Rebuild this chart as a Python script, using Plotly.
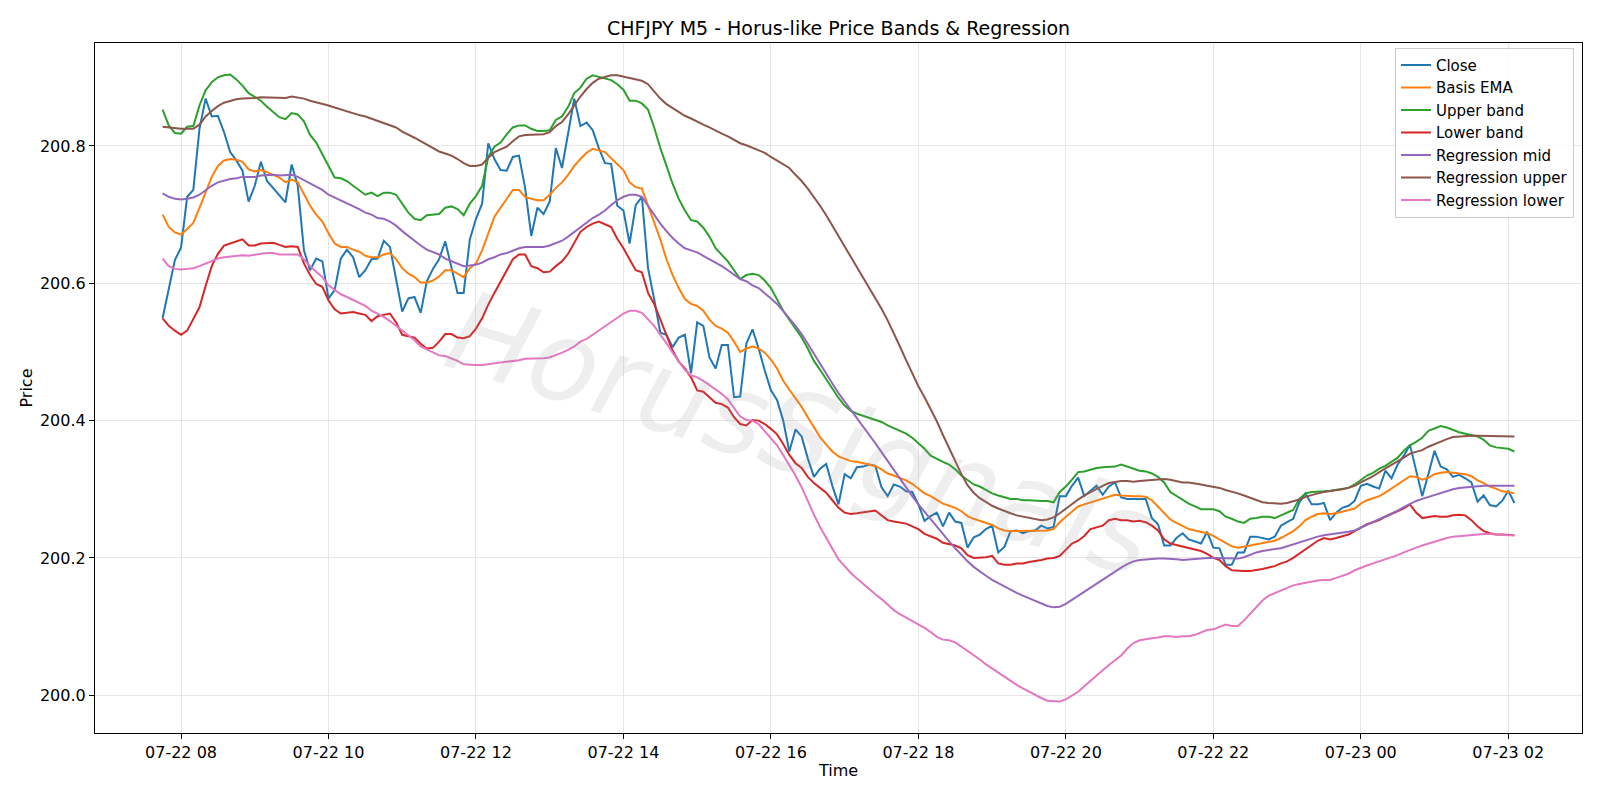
import pandas as pd
import plotly.graph_objects as go

# ---------------- data (5-minute bars, 07-22 07:45 -> 07-23 02:05) ----------------
start_time = "2025-07-22 07:45"
n_bars = 221
times = pd.date_range(start_time, periods=n_bars, freq="5min")

close = [
    200.549, 200.592, 200.634, 200.652, 200.726, 200.736, 200.825, 200.869, 200.843, 200.844,
    200.820, 200.791, 200.779, 200.764, 200.719, 200.742, 200.777, 200.749, 200.739, 200.729,
    200.718, 200.773, 200.742, 200.648, 200.619, 200.636, 200.632, 200.578, 200.590, 200.636,
    200.649, 200.638, 200.609, 200.619, 200.635, 200.636, 200.662, 200.653, 200.606, 200.559,
    200.578, 200.580, 200.557, 200.603, 200.621, 200.635, 200.661, 200.622, 200.586, 200.586,
    200.664, 200.694, 200.716, 200.804, 200.781, 200.765, 200.764, 200.784, 200.786, 200.739,
    200.669, 200.710, 200.701, 200.719, 200.797, 200.768, 200.820, 200.869, 200.829, 200.834,
    200.823, 200.797, 200.775, 200.774, 200.713, 200.706, 200.658, 200.714, 200.726, 200.622,
    200.577, 200.528, 200.525, 200.507, 200.521, 200.525, 200.469, 200.543, 200.538, 200.492,
    200.476, 200.510, 200.510, 200.434, 200.435, 200.512, 200.533, 200.505, 200.473, 200.444,
    200.430, 200.400, 200.355, 200.387, 200.377, 200.345, 200.318, 200.330, 200.337, 200.305,
    200.278, 200.322, 200.316, 200.332, 200.333, 200.336, 200.334, 200.303, 200.290, 200.307,
    200.304, 200.297, 200.296, 200.278, 200.254, 200.261, 200.266, 200.246, 200.266, 200.253,
    200.251, 200.215, 200.230, 200.234, 200.242, 200.247, 200.208, 200.216, 200.239, 200.240,
    200.236, 200.239, 200.240, 200.247, 200.243, 200.245, 200.290, 200.290, 200.305, 200.317,
    200.290, 200.297, 200.305, 200.292, 200.304, 200.310, 200.288, 200.286, 200.286, 200.286,
    200.286, 200.258, 200.249, 200.218, 200.218, 200.229, 200.236, 200.227, 200.224, 200.221,
    200.238, 200.215, 200.214, 200.190, 200.190, 200.208, 200.208, 200.231, 200.231, 200.229,
    200.227, 200.231, 200.247, 200.252, 200.257, 200.281, 200.294, 200.278, 200.278, 200.280,
    200.255, 200.266, 200.273, 200.276, 200.283, 200.305, 200.308, 200.304, 200.301, 200.327,
    200.316, 200.336, 200.349, 200.365, 200.325, 200.290, 200.322, 200.356, 200.333, 200.329,
    200.318, 200.321, 200.316, 200.310, 200.282, 200.291, 200.277, 200.275, 200.283, 200.298,
    200.280,
]

basis_ema = [
    200.700, 200.682, 200.674, 200.671, 200.679, 200.688, 200.710, 200.732, 200.755, 200.771,
    200.779, 200.781, 200.780, 200.777, 200.766, 200.763, 200.765, 200.762, 200.758, 200.754,
    200.747, 200.751, 200.747, 200.729, 200.713, 200.700, 200.690, 200.673, 200.658, 200.653,
    200.653, 200.649, 200.646, 200.640, 200.638, 200.638, 200.642, 200.644, 200.635, 200.622,
    200.614, 200.609, 200.601, 200.601, 200.604, 200.610, 200.619, 200.619, 200.614, 200.609,
    200.622, 200.629, 200.648, 200.674, 200.697, 200.710, 200.723, 200.736, 200.736, 200.726,
    200.723, 200.721, 200.721, 200.729, 200.739, 200.747, 200.758, 200.771, 200.781, 200.790,
    200.796, 200.794, 200.791, 200.782, 200.774, 200.765, 200.747, 200.740, 200.738, 200.713,
    200.690, 200.664, 200.635, 200.612, 200.593, 200.577, 200.570, 200.567, 200.560, 200.547,
    200.538, 200.534, 200.528, 200.515, 200.500, 200.505, 200.508, 200.505, 200.499, 200.489,
    200.476, 200.458, 200.445, 200.433, 200.420, 200.405, 200.390, 200.376, 200.365, 200.355,
    200.348, 200.345, 200.341, 200.340, 200.338, 200.336, 200.334, 200.329, 200.323, 200.320,
    200.317, 200.313, 200.308, 200.301, 200.294, 200.290, 200.285, 200.279, 200.276, 200.273,
    200.268, 200.261, 200.257, 200.254, 200.251, 200.248, 200.243, 200.240, 200.239, 200.239,
    200.239, 200.239, 200.239, 200.240, 200.240, 200.242, 200.252, 200.260, 200.268, 200.275,
    200.278, 200.281, 200.284, 200.286, 200.289, 200.292, 200.291, 200.290, 200.290, 200.290,
    200.289, 200.284, 200.275, 200.265, 200.256, 200.251, 200.246, 200.242, 200.240, 200.238,
    200.236, 200.232, 200.227, 200.221, 200.217, 200.215, 200.216, 200.218, 200.220, 200.222,
    200.223, 200.225, 200.229, 200.234, 200.239, 200.246, 200.255, 200.260, 200.264, 200.265,
    200.264, 200.265, 200.267, 200.269, 200.272, 200.279, 200.284, 200.287, 200.290, 200.295,
    200.301, 200.306, 200.312, 200.319, 200.318, 200.314, 200.317, 200.322, 200.324, 200.325,
    200.324, 200.323, 200.322, 200.319, 200.313, 200.309, 200.304, 200.301, 200.297, 200.296,
    200.294,
]

upper_band = [
    200.853, 200.830, 200.819, 200.818, 200.828, 200.829, 200.859, 200.881, 200.893, 200.900,
    200.903, 200.904, 200.897, 200.888, 200.877, 200.871, 200.866, 200.857, 200.849, 200.842,
    200.839, 200.848, 200.846, 200.836, 200.816, 200.805, 200.788, 200.770, 200.754, 200.753,
    200.749, 200.742, 200.735, 200.729, 200.732, 200.727, 200.732, 200.732, 200.729, 200.716,
    200.703, 200.694, 200.692, 200.699, 200.700, 200.701, 200.710, 200.712, 200.708, 200.699,
    200.716, 200.727, 200.742, 200.784, 200.799, 200.805, 200.817, 200.827, 200.830, 200.830,
    200.825, 200.822, 200.822, 200.823, 200.838, 200.843, 200.857, 200.877, 200.885, 200.898,
    200.903, 200.901, 200.898, 200.896, 200.890, 200.882, 200.866, 200.866, 200.862, 200.853,
    200.827, 200.797, 200.771, 200.745, 200.723, 200.706, 200.692, 200.690, 200.681, 200.668,
    200.651, 200.642, 200.632, 200.619, 200.606, 200.612, 200.614, 200.612, 200.604, 200.593,
    200.577, 200.560, 200.547, 200.534, 200.521, 200.505, 200.487, 200.474, 200.460, 200.445,
    200.433, 200.422, 200.414, 200.410, 200.407, 200.404, 200.401, 200.398, 200.393, 200.389,
    200.385, 200.381, 200.375, 200.367, 200.359, 200.349, 200.344, 200.340, 200.336, 200.329,
    200.320, 200.314, 200.307, 200.304, 200.299, 200.294, 200.291, 200.288, 200.286, 200.286,
    200.284, 200.284, 200.283, 200.283, 200.283, 200.281, 200.296, 200.304, 200.314, 200.325,
    200.326, 200.329, 200.331, 200.332, 200.333, 200.333, 200.336, 200.333, 200.329, 200.327,
    200.326, 200.323, 200.318, 200.310, 200.296, 200.290, 200.284, 200.279, 200.275, 200.271,
    200.271, 200.271, 200.268, 200.260, 200.257, 200.253, 200.251, 200.257, 200.258, 200.260,
    200.260, 200.258, 200.262, 200.266, 200.270, 200.286, 200.294, 200.296, 200.296, 200.297,
    200.298, 200.299, 200.301, 200.302, 200.307, 200.314, 200.320, 200.324, 200.330, 200.334,
    200.340, 200.346, 200.356, 200.364, 200.369, 200.375, 200.385, 200.388, 200.392, 200.390,
    200.386, 200.383, 200.381, 200.379, 200.377, 200.372, 200.364, 200.361, 200.360, 200.359,
    200.355,
]

lower_band = [
    200.549, 200.538, 200.531, 200.525, 200.531, 200.549, 200.565, 200.596, 200.625, 200.643,
    200.655, 200.658, 200.661, 200.664, 200.655, 200.655, 200.658, 200.659, 200.659, 200.656,
    200.653, 200.654, 200.653, 200.629, 200.612, 200.599, 200.595, 200.575, 200.562, 200.556,
    200.557, 200.558, 200.556, 200.554, 200.545, 200.552, 200.554, 200.556, 200.543, 200.525,
    200.523, 200.521, 200.512, 200.505, 200.506, 200.515, 200.526, 200.526, 200.521, 200.520,
    200.523, 200.534, 200.549, 200.569, 200.586, 200.603, 200.619, 200.635, 200.642, 200.642,
    200.625, 200.622, 200.616, 200.617, 200.625, 200.632, 200.643, 200.658, 200.675, 200.682,
    200.687, 200.690, 200.686, 200.682, 200.665, 200.651, 200.635, 200.619, 200.616, 200.586,
    200.570, 200.547, 200.525, 200.502, 200.486, 200.476, 200.463, 200.444, 200.442, 200.434,
    200.426, 200.424, 200.419, 200.405, 200.395, 200.393, 200.401, 200.400, 200.395, 200.388,
    200.380, 200.366, 200.350, 200.338, 200.331, 200.318, 200.309, 200.302, 200.295, 200.284,
    200.273, 200.266, 200.264, 200.265, 200.266, 200.268, 200.269, 200.262, 200.255, 200.253,
    200.252, 200.250, 200.246, 200.242, 200.235, 200.232, 200.228, 200.222, 200.220, 200.218,
    200.214, 200.204, 200.200, 200.200, 200.201, 200.203, 200.192, 200.190, 200.190, 200.192,
    200.192, 200.194, 200.195, 200.197, 200.199, 200.200, 200.203, 200.212, 200.221, 200.225,
    200.232, 200.242, 200.245, 200.247, 200.255, 200.257, 200.255, 200.255, 200.253, 200.254,
    200.252, 200.247, 200.240, 200.227, 200.221, 200.219, 200.216, 200.214, 200.212, 200.210,
    200.206, 200.200, 200.197, 200.188, 200.182, 200.181, 200.181, 200.181, 200.182, 200.184,
    200.186, 200.188, 200.192, 200.195, 200.200, 200.206, 200.213, 200.218, 200.225, 200.229,
    200.227, 200.229, 200.232, 200.234, 200.239, 200.244, 200.249, 200.252, 200.255, 200.260,
    200.264, 200.268, 200.272, 200.278, 200.266, 200.258, 200.260, 200.261, 200.260, 200.260,
    200.262, 200.263, 200.262, 200.255, 200.246, 200.239, 200.236, 200.234, 200.234, 200.234,
    200.233,
]

regression_mid = [
    200.731, 200.726, 200.723, 200.722, 200.723, 200.725, 200.729, 200.736, 200.742, 200.747,
    200.750, 200.752, 200.753, 200.755, 200.755, 200.755, 200.757, 200.758, 200.758, 200.757,
    200.757, 200.758, 200.755, 200.750, 200.745, 200.740, 200.736, 200.729, 200.725, 200.721,
    200.716, 200.712, 200.708, 200.703, 200.700, 200.695, 200.694, 200.690, 200.684, 200.676,
    200.669, 200.661, 200.655, 200.649, 200.645, 200.642, 200.636, 200.632, 200.629, 200.625,
    200.626, 200.627, 200.630, 200.635, 200.638, 200.642, 200.644, 200.648, 200.651, 200.653,
    200.653, 200.653, 200.653, 200.655, 200.658, 200.662, 200.668, 200.675, 200.682, 200.688,
    200.695, 200.700, 200.706, 200.714, 200.721, 200.726, 200.729, 200.729, 200.726, 200.713,
    200.700, 200.687, 200.676, 200.666, 200.658, 200.651, 200.648, 200.645, 200.640, 200.635,
    200.631, 200.625, 200.619, 200.612, 200.606, 200.603, 200.597, 200.593, 200.586, 200.578,
    200.570, 200.560, 200.549, 200.538, 200.526, 200.512, 200.497, 200.483, 200.468, 200.454,
    200.440, 200.428, 200.416, 200.404, 200.392, 200.380, 200.367, 200.354, 200.341, 200.328,
    200.315, 200.302, 200.290, 200.278, 200.267, 200.256, 200.245, 200.234, 200.224, 200.214,
    200.204, 200.195, 200.187, 200.180, 200.174, 200.168, 200.163, 200.158, 200.153, 200.149,
    200.145, 200.141, 200.137, 200.133, 200.130, 200.128, 200.129, 200.133, 200.139, 200.145,
    200.151, 200.157, 200.163, 200.169, 200.175, 200.181, 200.186, 200.191, 200.195, 200.197,
    200.198, 200.199, 200.199, 200.199, 200.199, 200.198, 200.197, 200.198, 200.199, 200.200,
    200.200, 200.200, 200.200, 200.200, 200.199, 200.199, 200.201, 200.205, 200.208, 200.210,
    200.212, 200.213, 200.214, 200.217, 200.219, 200.223, 200.226, 200.229, 200.231, 200.233,
    200.234, 200.235, 200.236, 200.238, 200.240, 200.244, 200.249, 200.253, 200.257, 200.261,
    200.265, 200.269, 200.274, 200.279, 200.283, 200.286, 200.289, 200.292, 200.295, 200.298,
    200.300, 200.302, 200.303, 200.304, 200.305, 200.305, 200.305, 200.305, 200.305, 200.305,
    200.305,
]

regression_upper = [
    200.828, 200.827, 200.825, 200.825, 200.825, 200.825, 200.831, 200.843, 200.851, 200.858,
    200.863, 200.866, 200.868, 200.869, 200.869, 200.870, 200.871, 200.871, 200.871, 200.871,
    200.870, 200.872, 200.871, 200.869, 200.866, 200.864, 200.862, 200.859, 200.856, 200.853,
    200.850, 200.847, 200.845, 200.843, 200.840, 200.836, 200.833, 200.831, 200.827, 200.821,
    200.817, 200.812, 200.807, 200.802, 200.797, 200.792, 200.789, 200.786, 200.781, 200.775,
    200.771, 200.771, 200.773, 200.783, 200.791, 200.795, 200.799, 200.807, 200.814, 200.816,
    200.816, 200.817, 200.817, 200.820, 200.829, 200.835, 200.846, 200.859, 200.872, 200.883,
    200.892, 200.898, 200.901, 200.903, 200.903, 200.901, 200.898, 200.896, 200.895, 200.890,
    200.880, 200.869, 200.861, 200.855, 200.849, 200.844, 200.840, 200.835, 200.831, 200.827,
    200.822, 200.818, 200.814, 200.809, 200.804, 200.801, 200.797, 200.794, 200.790, 200.784,
    200.779, 200.774, 200.768, 200.758, 200.749, 200.738, 200.726, 200.713, 200.699, 200.684,
    200.669, 200.654, 200.639, 200.624, 200.609, 200.595, 200.580, 200.563, 200.546, 200.528,
    200.508, 200.488, 200.469, 200.450, 200.434, 200.417, 200.399, 200.379, 200.360, 200.340,
    200.322, 200.306, 200.295, 200.287, 200.281, 200.276, 200.272, 200.268, 200.265, 200.262,
    200.260, 200.258, 200.256, 200.255, 200.256, 200.259, 200.265, 200.272, 200.279, 200.285,
    200.291, 200.296, 200.301, 200.305, 200.309, 200.311, 200.312, 200.312, 200.311, 200.312,
    200.313, 200.314, 200.315, 200.315, 200.314, 200.312, 200.310, 200.310, 200.309, 200.307,
    200.305, 200.304, 200.302, 200.299, 200.297, 200.294, 200.291, 200.288, 200.285, 200.281,
    200.280, 200.279, 200.279, 200.280, 200.282, 200.285, 200.289, 200.292, 200.294, 200.296,
    200.297, 200.298, 200.300, 200.302, 200.305, 200.310, 200.314, 200.319, 200.325, 200.330,
    200.335, 200.340, 200.346, 200.352, 200.355, 200.357, 200.362, 200.366, 200.370, 200.373,
    200.376, 200.377, 200.378, 200.378, 200.378, 200.378, 200.377, 200.377, 200.377, 200.377,
    200.377,
]

regression_lower = [
    200.636, 200.625, 200.621, 200.620, 200.621, 200.622, 200.625, 200.629, 200.632, 200.636,
    200.638, 200.639, 200.640, 200.641, 200.640, 200.642, 200.643, 200.644, 200.644, 200.642,
    200.642, 200.642, 200.642, 200.635, 200.625, 200.617, 200.609, 200.597, 200.590, 200.584,
    200.580, 200.576, 200.572, 200.567, 200.560, 200.556, 200.551, 200.545, 200.538, 200.531,
    200.523, 200.517, 200.508, 200.504, 200.499, 200.495, 200.494, 200.491, 200.487, 200.482,
    200.481, 200.481, 200.481, 200.482, 200.484, 200.484, 200.486, 200.487, 200.488, 200.490,
    200.490, 200.491, 200.491, 200.492, 200.495, 200.499, 200.503, 200.508, 200.515, 200.519,
    200.525, 200.531, 200.537, 200.544, 200.550, 200.556, 200.560, 200.560, 200.557, 200.547,
    200.538, 200.525, 200.513, 200.499, 200.486, 200.474, 200.466, 200.463, 200.458, 200.452,
    200.445, 200.439, 200.431, 200.418, 200.406, 200.401, 200.400, 200.395, 200.385, 200.375,
    200.364, 200.350, 200.336, 200.320, 200.303, 200.282, 200.263, 200.245, 200.229, 200.212,
    200.198, 200.188, 200.178, 200.170, 200.162, 200.155, 200.147, 200.140, 200.132, 200.124,
    200.118, 200.113, 200.109, 200.104, 200.098, 200.092, 200.085, 200.081, 200.080, 200.077,
    200.071, 200.065, 200.058, 200.052, 200.045, 200.039, 200.032, 200.026, 200.021, 200.015,
    200.010, 200.005, 200.000, 199.996, 199.992, 199.991, 199.991, 199.994, 199.999, 200.005,
    200.013, 200.021, 200.028, 200.036, 200.044, 200.051, 200.058, 200.068, 200.076, 200.080,
    200.082, 200.083, 200.084, 200.086, 200.086, 200.085, 200.086, 200.086, 200.088, 200.092,
    200.095, 200.096, 200.099, 200.103, 200.101, 200.101, 200.109, 200.119, 200.129, 200.138,
    200.145, 200.149, 200.152, 200.156, 200.160, 200.162, 200.164, 200.165, 200.167, 200.168,
    200.168, 200.171, 200.174, 200.177, 200.182, 200.186, 200.189, 200.192, 200.195, 200.197,
    200.200, 200.204, 200.208, 200.212, 200.215, 200.218, 200.221, 200.224, 200.227, 200.229,
    200.231, 200.232, 200.233, 200.234, 200.235, 200.235, 200.235, 200.234, 200.234, 200.233,
    200.233,
]

series_names = ["Close", "Basis EMA", "Upper band", "Lower band",
                "Regression mid", "Regression upper", "Regression lower"]
series_values = [close, basis_ema, upper_band, lower_band,
                 regression_mid, regression_upper, regression_lower]
series_colors = ["#1f77b4", "#ff7f0e", "#2ca02c", "#d62728",
                 "#9467bd", "#8c564b", "#e377c2"]

y_ticks = [200.0, 200.2, 200.4, 200.6, 200.8]
x_range = ["2025-07-22 06:50", "2025-07-23 03:00"]
y_range = [199.945, 200.950]

title_text = "CHFJPY M5 - Horus-like Price Bands & Regression"
watermark_text = "HorusSignals"

# ---------------- figure ----------------
FONT = "DejaVu Sans"
fig = go.Figure()
for name, vals, col in zip(series_names, series_values, series_colors):
    fig.add_trace(go.Scatter(
        x=times, y=vals, mode="lines", name=name,
        line=dict(color=col, width=2),
    ))

grid_col = "#e6e6e6"
fig.update_layout(
    width=1600, height=800,
    margin=dict(l=95, r=18, t=43, b=67, autoexpand=False),
    paper_bgcolor="white", plot_bgcolor="white",
    font=dict(family=FONT, size=16, color="black"),
    title=dict(text=title_text, x=0.5, xref="paper", xanchor="center",
               y=1 - 28 / 800, yref="container", yanchor="middle",
               font=dict(family=FONT, size=19, color="black")),
    showlegend=True,
    legend=dict(x=0.9946, y=0.993, xanchor="right", yanchor="top",
                bgcolor="rgba(255,255,255,0.8)", bordercolor="#cccccc",
                borderwidth=1, font=dict(family=FONT, size=15),
                itemwidth=30, tracegroupgap=0),
    xaxis=dict(
        type="date", range=x_range,
        tickformat="%m-%d %H", dtick=7200000, tick0="2025-07-22 00:00",
        showgrid=True, gridcolor=grid_col, gridwidth=1,
        showline=True, linecolor="black", linewidth=1.1, mirror=True,
        ticks="outside", ticklen=5, tickwidth=1.1, tickcolor="black",
        zeroline=False,
        title=dict(text="Time", standoff=3, font=dict(family=FONT, size=16)),
        tickfont=dict(family=FONT, size=16),
    ),
    yaxis=dict(
        range=y_range, tickvals=y_ticks, tickformat=".1f",
        showgrid=True, gridcolor=grid_col, gridwidth=1,
        showline=True, linecolor="black", linewidth=1.1, mirror=True,
        ticks="outside", ticklen=5, tickwidth=1.1, tickcolor="black",
        zeroline=False,
        title=dict(text="Price", standoff=3, font=dict(family=FONT, size=16)),
        tickfont=dict(family=FONT, size=16),
    ),
    annotations=[dict(
        text=watermark_text, xref="paper", yref="paper",
        x=0.475, y=0.433, xanchor="center", yanchor="middle",
        showarrow=False, textangle=17,
        font=dict(family=FONT, size=112, color="rgba(150,150,150,0.16)", style="italic"),
    )],
)

fig.write_html("out.html", include_plotlyjs=True, full_html=True,
               config={"responsive": False, "displayModeBar": False})
